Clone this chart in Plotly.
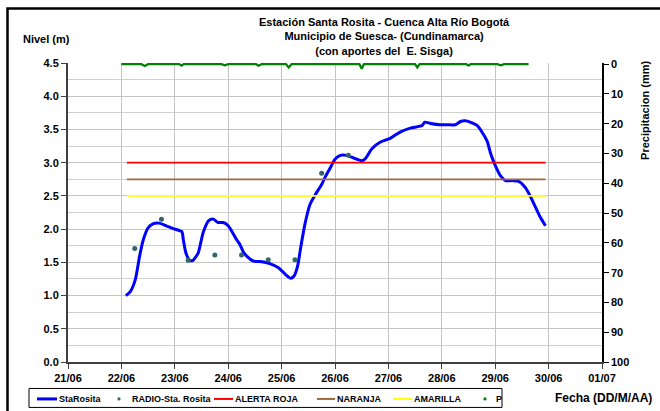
import plotly.graph_objects as go

# Nivel StaRosita (m)
nivel_fecha = [
    "06-22 02:00", "06-22 04:00", "06-22 06:15", "06-22 08:10", "06-22 09:50", "06-22 12:00",
    "06-22 14:10", "06-22 17:00", "06-22 20:10", "06-22 23:00", "06-23 03:10", "06-23 03:50",
    "06-23 05:00", "06-23 06:45", "06-23 08:10", "06-23 10:30", "06-23 12:45", "06-23 15:20",
    "06-23 17:15", "06-23 19:25", "06-23 21:50", "06-24 00:00", "06-24 03:50", "06-24 05:15",
    "06-24 06:45", "06-24 08:25", "06-24 11:15", "06-24 15:10", "06-24 18:40", "06-24 22:35",
    "06-25 01:40", "06-25 04:05", "06-25 05:30", "06-25 07:10", "06-25 08:40", "06-25 10:35",
    "06-25 12:45", "06-25 15:10", "06-25 18:00", "06-25 19:40", "06-25 21:50", "06-26 00:00",
    "06-26 02:25", "06-26 05:15", "06-26 08:25", "06-26 12:00", "06-26 13:40", "06-26 16:35",
    "06-26 20:25", "06-27 01:00", "06-27 05:15", "06-27 09:50", "06-27 15:10", "06-27 16:20",
    "06-27 19:00", "06-27 23:15", "06-28 02:25", "06-28 06:00", "06-28 08:25", "06-28 10:30",
    "06-28 12:45", "06-28 15:50", "06-28 18:15", "06-28 20:25", "06-28 21:50", "06-29 00:15",
    "06-29 02:25", "06-29 04:35", "06-29 07:40", "06-29 10:35", "06-29 13:40", "06-29 15:50",
    "06-29 18:15", "06-29 20:25", "06-29 22:35",
]
nivel_m = [
    1.00, 1.06, 1.24, 1.59, 1.84, 2.02,
    2.08, 2.09, 2.05, 2.01, 1.96, 1.84,
    1.64, 1.53, 1.53, 1.64, 1.95, 2.13,
    2.15, 2.10, 2.10, 2.05, 1.84, 1.77,
    1.66, 1.59, 1.52, 1.51, 1.48, 1.42,
    1.32, 1.26, 1.29, 1.44, 1.74, 2.09,
    2.37, 2.52, 2.67, 2.79, 2.92, 3.05,
    3.11, 3.11, 3.07, 3.03, 3.06, 3.21,
    3.31, 3.37, 3.46, 3.52, 3.56, 3.61,
    3.59, 3.57, 3.57, 3.57, 3.62, 3.63,
    3.61, 3.56, 3.45, 3.32, 3.15, 2.94,
    2.80, 2.73, 2.73, 2.72, 2.62, 2.49,
    2.32, 2.17, 2.05,
]

# Lecturas por radio
radio_fecha = ["06-22 06:00", "06-22 18:00", "06-23 06:00", "06-23 18:00", "06-24 06:00",
               "06-24 18:00", "06-25 06:00", "06-25 18:00", "06-26 06:00"]
radio_m = [1.71, 2.15, 1.53, 1.61, 1.61, 1.54, 1.54, 2.84, 3.11]

# Umbrales de alerta
alerta_nombres = ["ALERTA ROJA", "NARANJA", "AMARILLA"]
alerta_niveles = [3.0, 2.75, 2.5]
alerta_colores = ["#FF0000", "#A0693C", "#FFFF00"]
alerta_inicio = "06-22 02:25"
alerta_fin = "06-29 22:35"

# Precipitacion (mm)
p_fecha = [
    "06-22 00:00", "06-22 09:00", "06-22 10:30", "06-22 12:00", "06-23 02:00", "06-23 03:00",
    "06-23 04:00", "06-23 21:00", "06-23 22:30", "06-24 00:00", "06-24 12:30", "06-24 13:40",
    "06-24 15:00", "06-25 02:00", "06-25 03:10", "06-25 04:30", "06-26 11:00", "06-26 12:00",
    "06-26 13:00", "06-27 12:00", "06-27 13:00", "06-27 14:00", "06-28 11:00", "06-28 12:00",
    "06-28 13:00", "06-29 01:00", "06-29 02:30", "06-29 04:00", "06-29 15:00",
]
p_mm = [
    0, 0, 0.6, 0, 0, 0.5,
    0, 0, 0.4, 0, 0, 0.5,
    0, 0, 1.1, 0, 0, 1.5,
    0, 0, 1.1, 0, 0, 0.4,
    0, 0, 0.4, 0, 0,
]

YEAR = "2011-"
fecha = lambda lst: [YEAR + s for s in lst]

FONT = "Arial, Liberation Sans"
bold = dict(family=FONT, size=11, color="black", weight="bold")

# plot area in pixels (for placing annotations / shapes)
L, R, T, B = 68, 602, 63, 362.5
px = lambda x: (x - L) / (R - L)
py = lambda y: (B - y) / (B - T)

fig = go.Figure()

fig.add_trace(go.Scatter(
    x=fecha(nivel_fecha), y=nivel_m, name="StaRosita", mode="lines",
    line=dict(color="#0000FF", width=3, shape="spline", smoothing=0.6),
))
fig.add_trace(go.Scatter(
    x=fecha(radio_fecha), y=radio_m, name="RADIO-Sta. Rosita", mode="markers",
    marker=dict(color="#336666", size=5),
))
for nombre, nivel, color in zip(alerta_nombres, alerta_niveles, alerta_colores):
    fig.add_trace(go.Scatter(
        x=fecha([alerta_inicio, alerta_fin]), y=[nivel, nivel], name=nombre, mode="lines",
        line=dict(color=color, width=1.8),
    ))

# precipitacion en eje derecho (invertido)
fig.add_trace(go.Scatter(
    x=fecha(p_fecha), y=p_mm, name="P", mode="lines", yaxis="y2",
    line=dict(color="#008000", width=2.2),
))

fig.update_layout(
    width=660, height=411,
    margin=dict(l=L, r=660 - R, t=T, b=411 - B, autoexpand=False),
    paper_bgcolor="white", plot_bgcolor="white",
    font=dict(family=FONT, color="black"),
    showlegend=False,
    xaxis=dict(
        type="date", range=[YEAR + "06-21", YEAR + "07-01"],
        dtick=86400000, tickformat="%d/%m", tickfont=bold,
        showgrid=True, gridcolor="#C4C4C4", gridwidth=1.3,
        showline=True, linecolor="#404040", linewidth=2,
        ticks="outside", ticklen=5, tickcolor="#404040", zeroline=False,
    ),
    yaxis=dict(
        range=[0, 4.5], dtick=0.5, tickformat=".1f", tickfont=bold,
        showgrid=True, gridcolor="#C4C4C4", gridwidth=1.3,
        minor=dict(dtick=0.25, showgrid=True, gridcolor="#D0D0D0", gridwidth=1.3),
        showline=True, linecolor="#404040", linewidth=2,
        ticks="outside", ticklen=5, tickcolor="#404040", zeroline=False,
    ),
    yaxis2=dict(
        overlaying="y", side="right", range=[100, -0.4], tickvals=list(range(0, 101, 10)),
        tickfont=bold, showgrid=False, zeroline=False,
        showline=True, linecolor="black", linewidth=1.5,
        ticks="outside", ticklen=5, tickcolor="black",
    ),
)

# titulo y rotulos
fig.add_annotation(
    text="<b>Estación Santa Rosita - Cuenca Alta Río Bogotá<br>Municipio de Suesca- (Cundinamarca)<br>(con aportes del  E. Sisga)</b>",
    xref="paper", yref="paper", x=px(384), y=py(14),
    xanchor="center", yanchor="top", showarrow=False, font=bold,
)
fig.add_annotation(
    text="<b>Nivel (m)</b>", xref="paper", yref="paper", x=px(46), y=py(39),
    xanchor="center", yanchor="middle", showarrow=False, font=bold,
)
fig.add_annotation(
    text="<b>Precipitacion (mm)</b>", textangle=-90, xref="paper", yref="paper",
    x=px(645), y=py(111), xanchor="center", yanchor="middle", showarrow=False, font=bold,
)
fig.add_annotation(
    text="<b>Fecha (DD/M/AA)</b>", xref="paper", yref="paper", x=px(603), y=py(399),
    xanchor="center", yanchor="middle", showarrow=False, font=dict(bold, size=12),
)

# leyenda dibujada a mano (caja compacta como en el original)
ley_nombres = ["StaRosita", "RADIO-Sta. Rosita", "ALERTA ROJA", "NARANJA", "AMARILLA", "P"]
ley_colores = ["#0000FF", "#336666", "#FF0000", "#A0693C", "#FFFF00", "#008000"]
ley_tipo = ["line", "dot", "line", "line", "line", "dot"]
ley_x = [37, 119, 214, 317, 393, 485]    # inicio del simbolo (px)
ley_tx = [57, 130, 233, 335, 412, 494]   # inicio del texto (px)
ley_y = 399.5

fig.add_shape(type="rect", xref="paper", yref="paper", x0=px(29), x1=px(502),
              y0=py(408), y1=py(389), line=dict(color="black", width=1), fillcolor="white")
for nombre, color, tipo, sx, tx in zip(ley_nombres, ley_colores, ley_tipo, ley_x, ley_tx):
    if tipo == "line":
        fig.add_shape(type="line", xref="paper", yref="paper", x0=px(sx), x1=px(tx),
                      y0=py(ley_y), y1=py(ley_y),
                      line=dict(color=color, width=3 if nombre == "StaRosita" else 2))
    else:
        fig.add_shape(type="circle", xref="paper", yref="paper", x0=px(sx - 1.6), x1=px(sx + 1.6),
                      y0=py(ley_y + 1.6), y1=py(ley_y - 1.6),
                      line=dict(color=color, width=0), fillcolor=color)
    fig.add_annotation(
        text=f"<b>{nombre}</b>", xref="paper", yref="paper", x=px(tx), y=py(ley_y),
        xanchor="left", yanchor="middle", showarrow=False,
        font=dict(family=FONT, size=9, color="black"),
    )

# marco exterior
fig.add_shape(
    type="rect", xref="paper", yref="paper", layer="above",
    x0=px(7.5), y0=-1, x1=2, y1=py(8.5),
    line=dict(color="black", width=2.5),
)

fig.write_html("out.html", config={"displayModeBar": False},
               post_script="document.body.style.margin='0';")
